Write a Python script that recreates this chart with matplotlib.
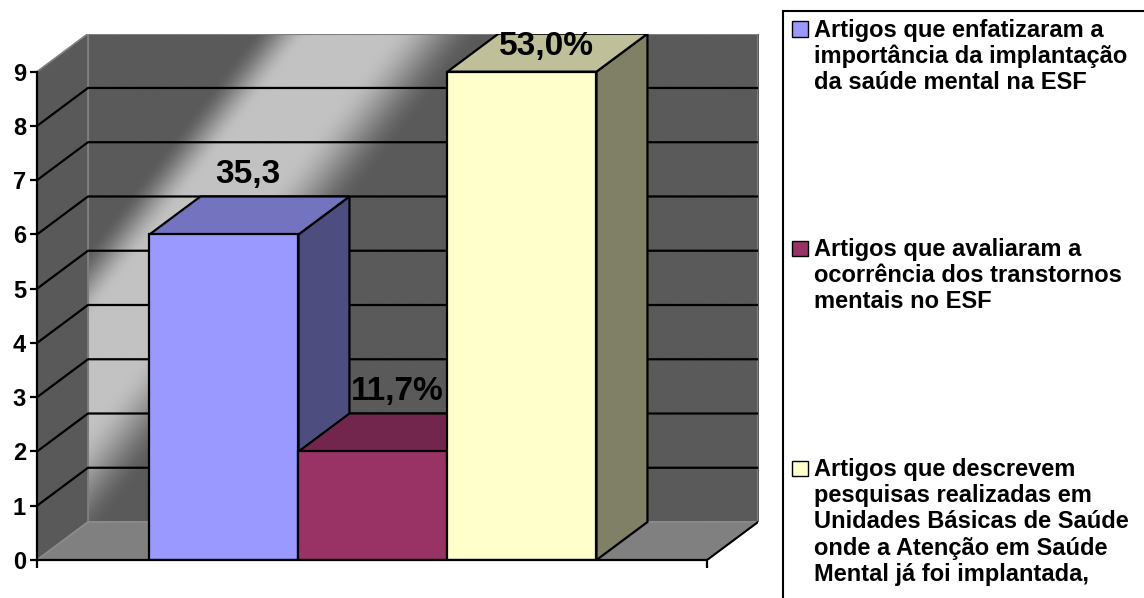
import numpy as np
import matplotlib.pyplot as plt
from matplotlib.patches import Polygon, Rectangle

plt.rcParams['font.family'] = ['Liberation Sans', 'DejaVu Sans']
plt.rcParams['font.weight'] = 'bold'

#%% data
categories = [
    'Artigos que enfatizaram a\nimportância da implantação\nda saúde mental na ESF',
    'Artigos que avaliaram a\nocorrência dos transtornos\nmentais no ESF',
    'Artigos que descrevem\npesquisas realizadas em\nUnidades Básicas de Saúde\n'
    'onde a Atenção em Saúde\nMental já foi implantada,',
]
values = [6, 2, 9]
value_labels = ['35,3', '11,7%', '53,0%']
yticks = list(range(10))

bar_colors = ['#9999FF', '#993366', '#FFFFCC']

def shade(color, k):
    r, g, b = [int(color[i:i + 2], 16) for i in (1, 3, 5)]
    return (r * k / 255, g * k / 255, b * k / 255)

#%% figure / axes (front plane + depth)
W, H = 1144, 598
fig = plt.figure(figsize=(W / 100, H / 100), dpi=100)
ax = fig.add_axes([37 / W, (H - 560) / H, (758 - 37) / W, (560 - 33.7) / H])

ymax = yticks[-1]
x_left = -1.255
x_right = 3.242
dx, dy = 0.342, 0.70          # depth of the 3d box in data units

ax.set_xlim(x_left, x_right + dx)
ax.set_ylim(0, ymax + dy)

# back wall with diagonal metallic gradient
ny, nx = 260, 360
bx0, bx1 = x_left + dx, x_right + dx
by0, by1 = dy, ymax + dy
gx, gy = np.meshgrid(np.linspace(bx0, bx1, nx), np.linspace(by1, by0, ny))
pts = ax.transData.transform(np.column_stack([gx.ravel(), gy.ravel()]))
u = (1.3 * pts[:, 0] + (H - pts[:, 1])).reshape(ny, nx)

def smooth(a, lo, hi):
    t = np.clip((a - lo) / (hi - lo), 0, 1)
    return t * t * (3 - 2 * t)

f = smooth(u, 360, 435) * (1 - smooth(u, 540, 660))
g = (90 + (194 - 90) * f) / 255
ax.imshow(np.dstack([g, g, g]), extent=[bx0, bx1, by0, by1], aspect='auto',
          interpolation='bilinear', zorder=0)
ax.add_patch(Rectangle((bx0, by0), bx1 - bx0, by1 - by0, fill=False,
                       edgecolor='#7f7f7f', lw=1.5, zorder=0.5))

# left side wall
ax.add_patch(Polygon([(x_left, 0), (x_left + dx, dy), (x_left + dx, ymax + dy), (x_left, ymax)],
                     closed=True, facecolor='#595959', edgecolor='#808080', lw=1.2, zorder=0.6))

# floor
ax.add_patch(Polygon([(x_left, 0), (x_left + dx, dy), (x_right + dx, dy), (x_right, 0)],
                     closed=True, facecolor='#808080', edgecolor='#8c8c8c', lw=1.2, zorder=0.7))
ax.plot([x_right, x_right + dx], [0, dy], color='black', lw=1.5, zorder=0.8)

# gridlines on side wall and back wall
for v in yticks[1:-1]:
    ax.plot([x_left, x_left + dx, x_right + dx], [v, v + dy, v + dy],
            color='black', lw=1.6, zorder=1)

#%% bars
x_pos = np.arange(len(values))
bars = ax.bar(x_pos, values, width=1.0, color=bar_colors, edgecolor='black', lw=1.6)
for i, (xc, v, c) in enumerate(zip(x_pos, values, bar_colors)):
    x0, x1 = xc - 0.5, xc + 0.5
    base = 2 + 3 * i
    ax.add_patch(Polygon([(x1, 0), (x1 + dx, dy), (x1 + dx, v + dy), (x1, v)], closed=True,
                         facecolor=shade(c, 0.5), edgecolor='black', lw=1.6, zorder=base))
    ax.add_patch(Polygon([(x0, v), (x0 + dx, v + dy), (x1 + dx, v + dy), (x1, v)], closed=True,
                         facecolor=shade(c, 0.75), edgecolor='black', lw=1.6, zorder=base + 1))
    bars[i].set_zorder(base + 2)
    ylab = min(v + dy + 0.24, ymax + dy - 0.39)
    ax.text(xc + dx / 2 - 0.01, ylab, value_labels[i], ha='center', va='baseline',
            fontsize=24, fontweight='bold', zorder=20)

#%% axes styling
for s in ['top', 'right']:
    ax.spines[s].set_visible(False)
ax.spines['left'].set_bounds(0, ymax)
ax.spines['bottom'].set_bounds(x_left, x_right)
ax.spines['left'].set_linewidth(1.6)
ax.spines['bottom'].set_linewidth(1.6)
ax.spines['left'].set_zorder(30)
ax.spines['bottom'].set_zorder(30)
ax.set_yticks(yticks)
ax.set_yticklabels([str(t) for t in yticks])
ax.set_xticks([x_left, x_right])
ax.set_xticklabels([])
ax.tick_params(axis='y', direction='out', length=5, width=1.6, pad=3, labelsize=17)
ax.tick_params(axis='x', direction='out', length=6, width=1.6)
for lab in ax.get_yticklabels():
    lab.set_fontweight('bold')

#%% legend box
fig.add_artist(Rectangle((783 / W, -0.02), (1200 - 783) / W, (H - 11) / H + 0.02,
                         transform=fig.transFigure, facecolor='white', edgecolor='black', lw=1.5))
first_baseline = [37, 256, 476]
line_step = 26.2
for lbl, c, yb in zip(categories, bar_colors, first_baseline):
    fig.add_artist(Rectangle((792 / W, (H - yb) / H), 16 / W, 15.5 / H,
                             transform=fig.transFigure, facecolor=c, edgecolor='black', lw=1.0))
    for k, line in enumerate(lbl.split('\n')):
        fig.text(814 / W, (H - yb - k * line_step) / H, line, ha='left', va='baseline',
                 fontsize=17, fontweight='bold')

fig.savefig('out.png', dpi=100)
